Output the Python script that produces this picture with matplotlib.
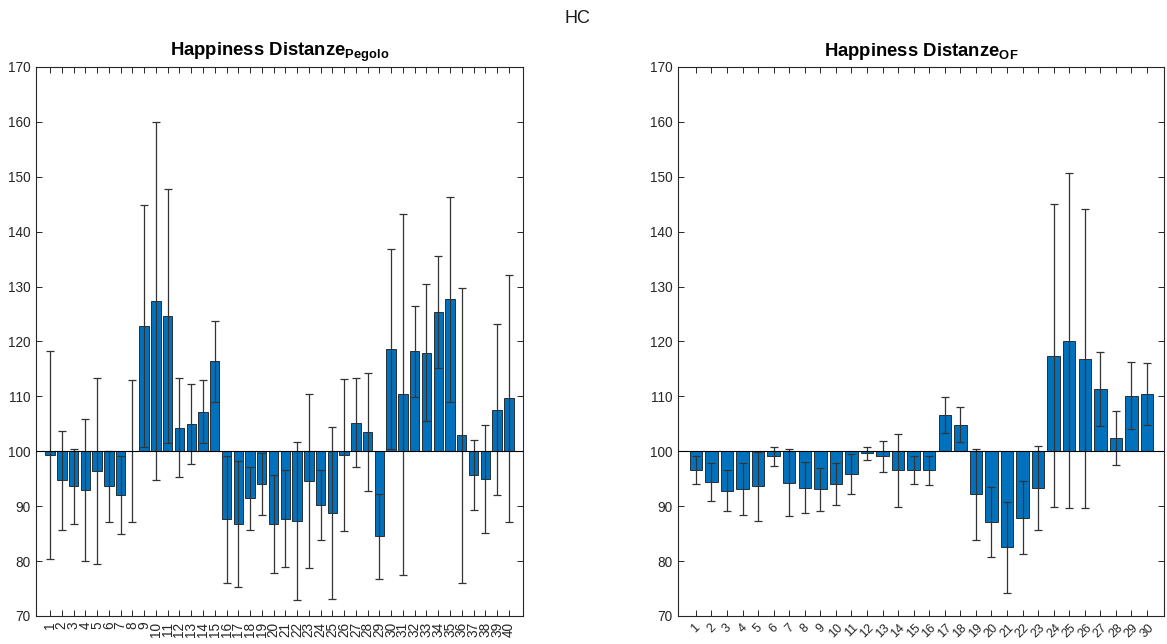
import numpy as np
import matplotlib
matplotlib.use("Agg")
import matplotlib.pyplot as plt

plt.rcParams['font.family'] = ['Liberation Sans', 'DejaVu Sans']
plt.rcParams['mathtext.fontset'] = 'custom'
plt.rcParams['mathtext.rm'] = 'Liberation Sans'
plt.rcParams['mathtext.bf'] = 'Liberation Sans:bold'

# Pegolo distances (40 subjects)
pegolo_mean = [99.3, 94.7, 93.6, 92.9, 96.4, 93.6, 92.0, 100.1, 122.8, 127.35,
               124.6, 104.3, 105.0, 107.2, 116.4, 87.6, 86.7, 91.4, 94.0, 86.7,
               87.75, 87.3, 94.6, 90.2, 88.75, 99.3, 105.2, 103.5, 84.5, 118.6,
               110.4, 118.2, 117.95, 125.4, 127.65, 102.9, 95.7, 95.0, 107.6, 109.7]
pegolo_err = [19.0, 9.0, 6.9, 12.9, 17.0, 6.5, 7.1, 12.9, 22.0, 32.65,
              23.1, 9.0, 7.3, 5.7, 7.4, 11.6, 11.5, 5.65, 5.6, 8.9,
              8.85, 14.3, 15.8, 6.3, 15.65, 13.8, 8.15, 10.75, 7.8, 18.2,
              32.9, 8.3, 12.45, 10.25, 18.75, 26.9, 6.4, 9.8, 15.65, 22.5]

# OF distances (30 subjects)
of_mean = [96.65, 94.4, 92.8, 93.15, 93.6, 99.05, 94.3, 93.4, 93.1, 94.05,
           95.85, 99.6, 99.05, 96.5, 96.55, 96.5, 106.6, 104.8, 92.2, 87.1,
           82.5, 87.85, 93.3, 117.4, 120.15, 116.85, 111.3, 102.4, 110.15, 110.4]
of_err = [2.55, 3.5, 3.7, 4.8, 6.3, 1.65, 6.1, 4.7, 3.9, 3.85,
          3.65, 1.1, 2.9, 6.6, 2.55, 2.6, 3.2, 3.2, 8.3, 6.4,
          8.3, 6.65, 7.7, 27.6, 30.45, 27.25, 6.7, 4.9, 6.05, 5.7]

base = 100
bar_color = "#0072BD"
axis_color = "#262626"

fig = plt.figure(figsize=(11.67, 6.44), dpi=100)
ax1 = fig.add_axes([0.0308, 0.0435, 0.4173, 0.8525])
ax2 = fig.add_axes([0.581, 0.0435, 0.4165, 0.8525])


def draw(ax, means, errs, title_sub, rot, xlim):
    n = len(means)
    x = np.arange(1, n + 1)
    heights = np.array(means) - base
    ax.bar(x, heights, bottom=base, width=0.8, color=bar_color,
           edgecolor="#1a1a1a", linewidth=0.6, zorder=2)
    ax.errorbar(x, means, yerr=errs, fmt="none", ecolor="#333333",
                elinewidth=0.9, capsize=2.7, capthick=0.9, zorder=3)
    ax.axhline(base, color="black", linewidth=0.8, zorder=4)
    ax.set_xlim(*xlim)
    ax.set_ylim(70, 170)
    ax.set_yticks(np.arange(70, 171, 10))
    ax.set_xticks(x)
    if rot == 90:
        ax.set_xticklabels([str(i) for i in x], rotation=90, fontsize=9.8)
    else:
        ax.set_xticklabels([str(i) for i in x], rotation=45, fontsize=9,
                           ha="center")
    ax.tick_params(axis="y", labelsize=9.8)
    ax.tick_params(direction="in", top=True, right=True, length=4,
                   width=0.7, colors=axis_color, pad=4)
    for s in ax.spines.values():
        s.set_color(axis_color)
        s.set_linewidth(0.8)
    ax.set_title("Happiness Distanze$_{\\mathbf{" + title_sub + "}}$",
                 fontsize=13.3, fontweight="bold", pad=8)


draw(ax1, pegolo_mean, pegolo_err, "Pegolo", 90, (-0.2, 41.2))
draw(ax2, of_mean, of_err, "OF", 45, (-0.15, 31.1))

fig.text(0.495, 0.972, "HC", ha="center", va="center", fontsize=13,
         color="#1a1a1a")

plt.savefig("out.png", dpi=100)
